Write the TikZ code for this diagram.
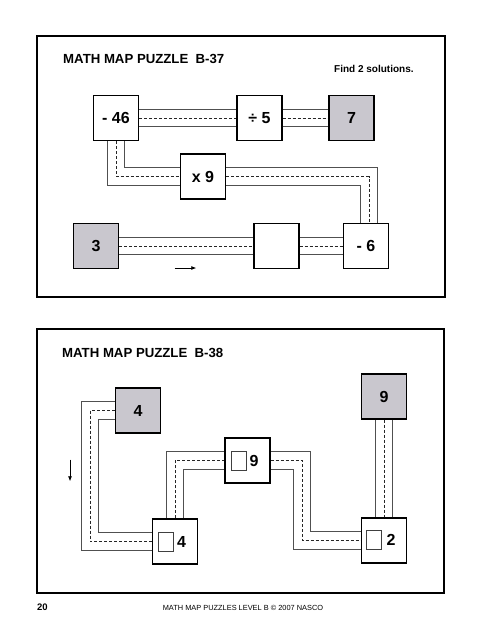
\documentclass[tikz,border=0pt]{standalone}
\usepackage{fontspec}
\setmainfont{Liberation Sans}
\usetikzlibrary{backgrounds,arrows.meta}
\definecolor{boxgray}{RGB}{201,199,206}
\definecolor{chanline}{RGB}{80,80,80}
\begin{document}
\begin{tikzpicture}[x=1pt,y=-1pt,
  box/.style={draw=black, line width=1.1pt, fill=white, minimum width=45pt, minimum height=45pt, inner sep=0pt, font=\bfseries\fontsize{16}{16}\selectfont},
  given/.style={box, fill=boxgray},
  smallsq/.style={draw=black!75, line width=0.8pt, fill=white, minimum width=15pt, minimum height=19pt, inner sep=0pt},
  numtxt/.style={inner sep=0pt, font=\bfseries\fontsize{16}{16}\selectfont},
  chan/.style={draw=chanline, line width=1pt, double=white, double distance=16.5pt},
  mid/.style={draw=black!85, line width=0.75pt, dash pattern=on 3pt off 2pt},
  panel/.style={draw=black, line width=2.5pt},
  title/.style={anchor=base west, inner sep=0pt, font=\bfseries\fontsize{13.2}{14}\selectfont},
  hint/.style={anchor=base west, inner sep=0pt, font=\bfseries\fontsize{10}{11}\selectfont},
  dirarrow/.style={draw=black, line width=0.8pt, -{Latex[length=5pt,width=4pt]}}]
\useasboundingbox (0,0) rectangle (486,640);

% panels
\draw[panel] (37,36) rectangle (445,297);
\draw[panel] (37,329) rectangle (444,593);

% ---------- B-37 ----------
\node[title] (t37) at (63,63) {MATH MAP PUZZLE\ \ B-37};
\node[hint] (h37) at (334,72.5) {Find 2 solutions.};

\node[box] (m46) at (116,118) {- 46};
\node[box] (d5) at (259.5,118) {÷ 5};
\node[given] (s7) at (351.5,118) {7};
\node[box] (x9) at (203,176.5) {x 9};
\node[given] (s3) at (96,246) {3};
\node[box] (bl) at (276.5,246) {};
\node[box] (m6) at (366,246) {- 6};
\coordinate (c1) at (369,240);

\node[inner sep=0pt] (a1s) at (174,268) {};
\node[inner sep=0pt] (a1e) at (197,268) {};
\draw[dirarrow] (a1s) -- (a1e);

% ---------- B-38 ----------
\node[title] (t38) at (62,357) {MATH MAP PUZZLE\ \ B-38};

\node[given] (g4) at (138,410.5) {4};
\node[given] (g9) at (384,396.5) {9};
\node[box] (n9) at (247.5,460.5) {};
\node[box] (b4) at (175,541.5) {};
\node[box] (t2) at (384,540.5) {};
\node[smallsq] (n9s) at (238.5,461) {};
\node[numtxt] (n9t) at (254,461) {9};
\node[smallsq] (b4s) at (165.5,541.5) {};
\node[numtxt] (b4t) at (181.5,541.5) {4};
\node[smallsq] (t2s) at (374,539.5) {};
\node[numtxt] (t2t) at (391,539.5) {2};
\coordinate (k1) at (90,410.5);
\coordinate (k2) at (302,460.5);

\node[inner sep=0pt] (a2s) at (70,459) {};
\node[inner sep=0pt] (a2e) at (70,482) {};
\draw[dirarrow] (a2s) -- (a2e);

% footer
\node[anchor=base west, inner sep=0pt, font=\bfseries\fontsize{9.5}{10}\selectfont] (pg) at (37,610) {20};
\node[anchor=base, inner sep=0pt, font=\fontsize{7.4}{8}\selectfont] (ft) at (243,610) {MATH MAP PUZZLES LEVEL B \textcopyright{} 2007 NASCO};

% channels behind the boxes
\begin{scope}[on background layer]
  \fill[white] (0,0) rectangle (486,640);
  % B-37
  \draw[chan] (m46) -- (d5);
  \draw[mid] (m46) -- (d5);
  \draw[chan] (d5) -- (s7);
  \draw[mid] (d5) -- (s7);
  \draw[chan] (m46) |- (x9);
  \draw[mid] (m46) |- (x9);
  \draw[chan] (x9) -| (c1);
  \draw[mid] (x9) -| (c1);
  \draw[chan] (s3) -- (bl);
  \draw[mid] (s3) -- (bl);
  \draw[chan] (bl) -- (m6);
  \draw[mid] (bl) -- (m6);
  % B-38
  \draw[chan] (g4) -- (k1) |- (b4);
  \draw[mid] (g4) -- (k1) |- (b4);
  \draw[chan] (b4) |- (n9);
  \draw[mid] (b4) |- (n9);
  \draw[chan] (n9) -- (k2) |- (t2);
  \draw[mid] (n9) -- (k2) |- (t2);
  \draw[chan] (g9) -- (t2);
  \draw[mid] (g9) -- (t2);
\end{scope}
\end{tikzpicture}
\end{document}
